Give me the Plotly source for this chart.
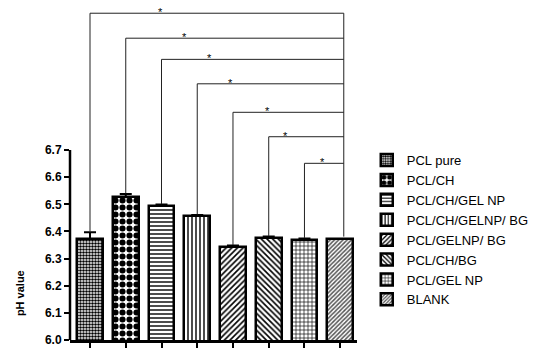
import plotly.graph_objects as go

categories = ["PCL pure", "PCL/CH", "PCL/CH/GEL NP", "PCL/CH/GELNP/ BG",
              "PCL/GELNP/ BG", "PCL/CH/BG", "PCL/GEL NP", "BLANK"]
ph_values = [6.372, 6.526, 6.495, 6.457, 6.344, 6.377, 6.370, 6.371]
ph_errors = [0.025, 0.012, 0.004, 0.004, 0.004, 0.004, 0.004, 0.0]
y_ticks = [6.0, 6.1, 6.2, 6.3, 6.4, 6.5, 6.6, 6.7]

# significance brackets: each group vs BLANK
bracket_from = [0, 1, 2, 3, 4, 5, 6]
bracket_levels = [7.204, 7.112, 7.034, 6.944, 6.839, 6.749, 6.651]
star_x = [1.96, 2.63, 3.35, 3.94, 4.97, 5.47, 6.50]

patterns = [
    dict(shape=".", size=3, solidity=0.55),
    dict(shape=".", size=7, solidity=0.6),
    dict(shape="-", size=4, solidity=0.35),
    dict(shape="|", size=4, solidity=0.35),
    dict(shape="/", size=4, solidity=0.4),
    dict(shape="\\", size=4, solidity=0.4),
    dict(shape="+", size=4, solidity=0.3),
    dict(shape="/", size=3, solidity=0.5, fgcolor="#555555"),
]

FONT = "Arial, Liberation Sans, sans-serif"
fig = go.Figure()
for i, (cat, v, e, p) in enumerate(zip(categories, ph_values, ph_errors, patterns)):
    pat = dict(fgcolor="black", bgcolor="white", fillmode="replace")
    pat.update(p)
    fig.add_trace(go.Bar(
        x=[i], y=[v], base=0, name=cat, width=0.72,
        marker=dict(color="white", line=dict(color="black", width=2.5), pattern=pat),
        error_y=dict(type="data", array=[e], arrayminus=[0], symmetric=False,
                     color="black", thickness=2, width=6, visible=e > 0),
    ))

right_x = len(categories) - 1 + 0.1
shapes = []
for idx, lvl in zip(bracket_from, bracket_levels):
    x0 = idx
    bottom = ph_values[idx] + ph_errors[idx] + 0.002
    shapes.append(dict(type="line", xref="x", yref="y", x0=x0, x1=x0, y0=bottom, y1=lvl,
                       line=dict(color="#222222", width=1)))
    shapes.append(dict(type="line", xref="x", yref="y", x0=x0, x1=right_x, y0=lvl, y1=lvl,
                       line=dict(color="#222222", width=1)))
shapes.append(dict(type="line", xref="x", yref="y", x0=right_x, x1=right_x,
                   y0=ph_values[-1] + 0.01, y1=max(bracket_levels),
                   line=dict(color="#222222", width=1)))
shapes.append(dict(type="line", xref="paper", yref="y", x0=0, x1=0, y0=y_ticks[0], y1=y_ticks[-1],
                   line=dict(color="black", width=2.5)))

annotations = []
for sx, lvl in zip(star_x, bracket_levels):
    annotations.append(dict(x=sx, y=lvl, xref="x", yref="y", text="*", showarrow=False,
                            xanchor="center", yanchor="middle", yshift=1,
                            borderpad=0, borderwidth=0,
                            font=dict(size=11, color="black", family=FONT)))
annotations.append(dict(x=-0.174, y=6.173, xref="paper", yref="y", text="<b>pH value</b>",
                        xanchor="center", yanchor="middle",
                        textangle=-90, showarrow=False, font=dict(size=11, color="black", family=FONT)))

# page body adds an 8px offset; figure is sized to fill the remaining window
fig.update_layout(
    width=551, height=341,
    margin=dict(l=62, r=202, t=0, b=9, autoexpand=False),
    plot_bgcolor="white", paper_bgcolor="white",
    barmode="overlay", bargap=0,
    showlegend=True,
    legend=dict(x=1.034, y=0.587, xanchor="left", yanchor="top",
                font=dict(size=13, family=FONT, color="black"),
                bgcolor="rgba(0,0,0,0)"),
    shapes=shapes, annotations=annotations,
    font=dict(family=FONT),
)
fig.update_xaxes(range=[-0.56, 7.47], tickvals=list(range(len(categories))), showticklabels=False,
                 ticks="outside", ticklen=5, tickwidth=2, tickcolor="black",
                 showline=True, linewidth=2.5, linecolor="black", showgrid=False, zeroline=False)
fig.update_yaxes(range=[6.0, 6.0 + 332 / 271.4], tickvals=y_ticks, ticktext=[f"{t:.1f}" for t in y_ticks],
                 ticks="outside", ticklen=5, tickwidth=2, tickcolor="black",
                 tickfont=dict(size=12, family=FONT, color="black", weight="bold"),
                 showline=False, showgrid=False, zeroline=False)

fig.write_html("out.html")
